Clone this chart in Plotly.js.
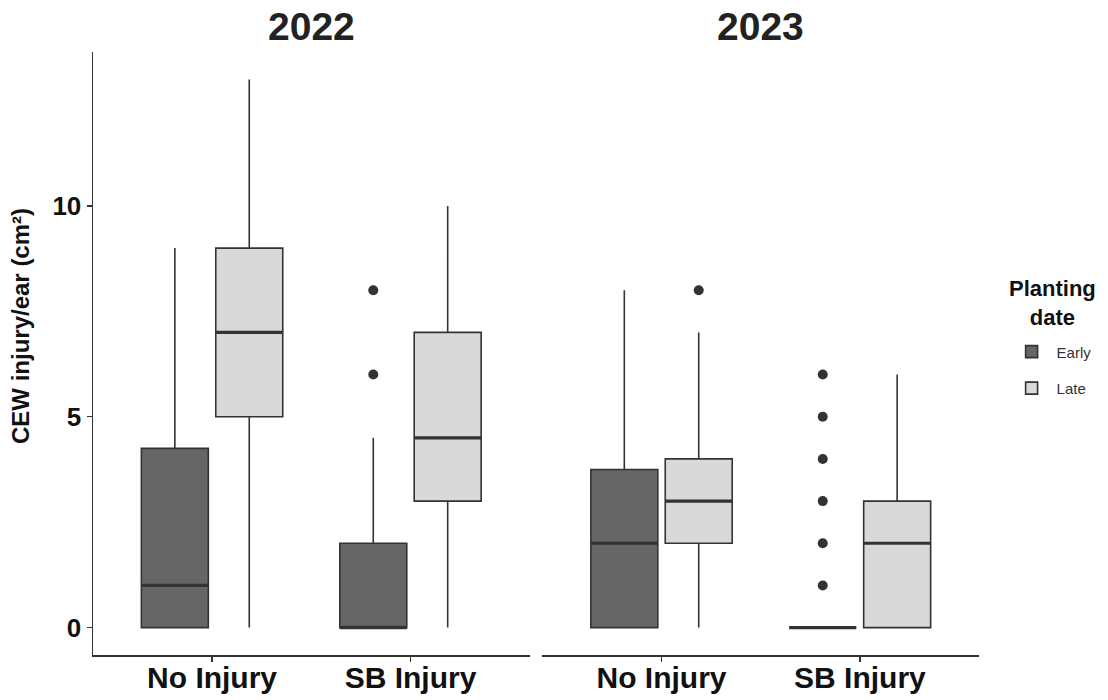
<!DOCTYPE html>
<html>
<head>
<meta charset="utf-8">
<script src="https://cdn.plot.ly/plotly-3.0.1.min.js"></script>
<style>
  html, body { margin: 0; padding: 0; background: #ffffff; }
  #chart { width: 1108px; height: 700px; }
</style>
</head>
<body>
<div id="chart"></div>
<script>
// Facets, x categories and fill groups
const years = ['2022', '2023'];
const categories = ['No Injury', 'SB Injury'];
const groups = ['Early', 'Late'];

// Box summaries, one entry per box, ordered year -> category -> planting date
const boxYear     = ['2022', '2022', '2022', '2022', '2023', '2023', '2023', '2023'];
const boxCategory = ['No Injury', 'No Injury', 'SB Injury', 'SB Injury', 'No Injury', 'No Injury', 'SB Injury', 'SB Injury'];
const boxGroup    = ['Early', 'Late', 'Early', 'Late', 'Early', 'Late', 'Early', 'Late'];
const lowerWhisker = [0, 0, 0, 0, 0, 0, 0, 0];
const q1           = [0, 5, 0, 3, 0, 2, 0, 0];
const median       = [1, 7, 0, 4.5, 2, 3, 0, 2];
const q3           = [4.25, 9, 2, 7, 3.75, 4, 0, 3];
const upperWhisker = [9, 13, 4.5, 10, 8, 7, 0, 6];
const outliers     = [[], [], [6, 8], [], [], [8], [1, 2, 3, 4, 5, 6], []];

// Y axis ticks
const yTicks = [0, 5, 10];

const fillColors = { Early: '#666666', Late: '#d9d9d9' };
const lineColor = '#333333';
const boxWidth = 0.3375;
const dodge = { Early: -0.1875, Late: 0.1875 };
const axisFor = { '2022': 'x', '2023': 'x2' };

function boxPosition(i) {
  return categories.indexOf(boxCategory[i]) + 1 + dodge[boxGroup[i]];
}

const traces = [];

years.forEach(function (yr) {
  groups.forEach(function (g) {
    const idx = [];
    boxYear.forEach(function (y, i) { if (y === yr && boxGroup[i] === g) idx.push(i); });
    traces.push({
      type: 'box',
      name: g,
      legendgroup: g,
      showlegend: yr === '2022',
      xaxis: axisFor[yr],
      yaxis: 'y',
      x: idx.map(boxPosition),
      q1: idx.map(function (i) { return q1[i]; }),
      median: idx.map(function (i) { return median[i]; }),
      q3: idx.map(function (i) { return q3[i]; }),
      lowerfence: idx.map(function (i) { return lowerWhisker[i]; }),
      upperfence: idx.map(function (i) { return upperWhisker[i]; }),
      width: boxWidth,
      whiskerwidth: 0,
      boxpoints: false,
      fillcolor: fillColors[g],
      line: { color: lineColor, width: 1.6 },
      hoverinfo: 'skip'
    });
  });

  // thicker median bars
  const mx = [], my = [];
  boxYear.forEach(function (y, i) {
    if (y !== yr) return;
    const p = boxPosition(i);
    mx.push(p - boxWidth / 2, p + boxWidth / 2, null);
    my.push(median[i], median[i], null);
  });
  traces.push({
    type: 'scatter', mode: 'lines', showlegend: false, hoverinfo: 'skip',
    xaxis: axisFor[yr], yaxis: 'y',
    x: mx, y: my,
    line: { color: lineColor, width: 3.2 }
  });

  // outlying points
  const ox = [], oy = [];
  boxYear.forEach(function (y, i) {
    if (y !== yr) return;
    outliers[i].forEach(function (v) { ox.push(boxPosition(i)); oy.push(v); });
  });
  traces.push({
    type: 'scatter', mode: 'markers', showlegend: false, hoverinfo: 'skip',
    xaxis: axisFor[yr], yaxis: 'y',
    x: ox, y: oy,
    marker: { color: lineColor, size: 10 }
  });
});

const fontFamily = 'Liberation Sans, Arial, sans-serif';

function xAxis(domain) {
  return {
    domain: domain,
    anchor: 'y',
    range: [0.4, 2.6],
    tickvals: [1, 2],
    ticktext: categories,
    showline: true,
    linecolor: lineColor,
    linewidth: 1.5,
    ticks: 'outside',
    ticklen: 5,
    tickwidth: 1.2,
    tickcolor: lineColor,
    ticklabelstandoff: -10,
    showgrid: false,
    zeroline: false,
    tickfont: { family: fontFamily, size: 30, weight: 'bold', color: '#111111' },
    fixedrange: true
  };
}

const leftDomain = [0, 0.4927];
const rightDomain = [0.5073, 1];

const annotations = years.map(function (yr, k) {
  const d = k === 0 ? leftDomain : rightDomain;
  return {
    text: yr,
    xref: 'paper', yref: 'paper',
    x: (d[0] + d[1]) / 2, y: 1.0415,
    xanchor: 'center', yanchor: 'middle',
    showarrow: false,
    font: { family: fontFamily, size: 39, weight: 'bold', color: '#222222' }
  };
});

// y axis title
annotations.push({
  text: 'CEW injury/ear (cm²)',
  xref: 'paper', yref: 'paper',
  x: -0.081, y: 0.546,
  xanchor: 'center', yanchor: 'middle',
  textangle: -90,
  showarrow: false,
  font: { family: fontFamily, size: 24, weight: 'bold', color: '#111111' }
});

// legend heading, centred over the keys
annotations.push({
  text: 'Planting<br>date',
  xref: 'paper', yref: 'paper',
  x: 1.083, y: 0.583,
  xanchor: 'center', yanchor: 'middle',
  align: 'center',
  showarrow: false,
  font: { family: fontFamily, size: 22, weight: 'bold', color: '#111111' }
});

const layout = {
  width: 1108,
  height: 700,
  paper_bgcolor: '#ffffff',
  plot_bgcolor: '#ffffff',
  margin: { l: 93, r: 128, t: 52, b: 45 },
  boxmode: 'overlay',
  font: { family: fontFamily, color: '#111111' },
  xaxis: xAxis(leftDomain),
  xaxis2: xAxis(rightDomain),
  yaxis: {
    anchor: 'x',
    range: [-0.65, 13.65],
    tickvals: yTicks,
    showline: true,
    linecolor: lineColor,
    linewidth: 1.5,
    ticks: 'outside',
    ticklen: 5,
    tickwidth: 1.2,
    tickcolor: lineColor,
    showgrid: false,
    zeroline: false,
    tickfont: { family: fontFamily, size: 26, weight: 'bold', color: '#111111' },
    fixedrange: true
  },
  annotations: annotations,
  legend: {
    x: 1.03, y: 0.53,
    xanchor: 'left', yanchor: 'top',
    font: { family: fontFamily, size: 15, color: '#333333' },
    itemwidth: 40,
    traceorder: 'grouped',
    tracegroupgap: 14,
    bgcolor: 'rgba(0,0,0,0)'
  },
  showlegend: true
};

Plotly.newPlot('chart', traces, layout, { displayModeBar: false, staticPlot: true });
</script>
</body>
</html>
